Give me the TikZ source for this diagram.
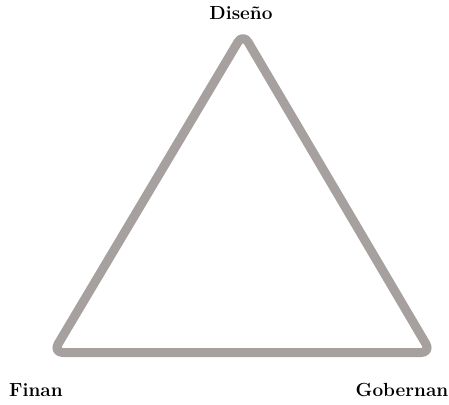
\documentclass[tikz,border=0pt]{standalone}
\usepackage{tikz}
\tikzset{
  side/.style={draw=triline, line width=9pt, rounded corners=10pt, line join=round},
  lbl/.style={font=\fontsize{19}{22}\selectfont\bfseries, inner sep=0pt, anchor=base},
}
\definecolor{triline}{RGB}{166,161,159}
\begin{document}
\begin{tikzpicture}[x=1pt,y=-1pt]
\useasboundingbox (0,0) rectangle (449,404);
\coordinate (top) at (243,33.5);
\coordinate (bl) at (53,352.5);
\coordinate (br) at (431,352.5);
\draw[side] (top) -- (br) -- (bl) -- cycle;
\node[lbl] (dis) at (241,20) {Diseño};
\node[lbl] (fin) at (36,396) {Finan};
\node[lbl] (gob) at (402,396) {Gobernan};
\end{tikzpicture}
\end{document}
